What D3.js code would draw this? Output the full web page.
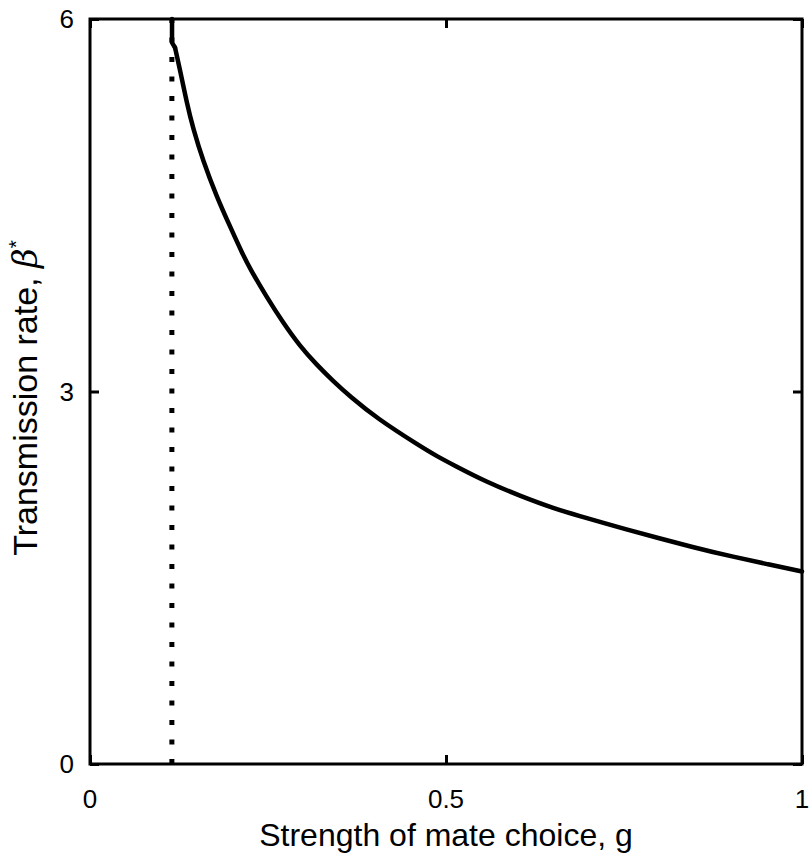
<!DOCTYPE html>
<html lang="en">
<head>
<meta charset="utf-8">
<title>Transmission rate vs strength of mate choice</title>
<script src="https://cdn.jsdelivr.net/npm/d3@7"></script>
<style>
  body { margin: 0; background: #fff; }
  text { font-family: "Liberation Sans", Arial, Helvetica, sans-serif; fill: #000; }
</style>
</head>
<body>
<script>
// threshold value of g (dotted vertical line)
var gThreshold = 0.115;

// curve: strength of mate choice g -> beta*
var gValues = [0.1152, 0.1152, 0.1194, 0.1264, 0.1358, 0.1447, 0.1587, 0.1779, 0.1966, 0.2149,
               0.2247, 0.2482, 0.2711, 0.2949, 0.3184, 0.3413, 0.3652, 0.4027, 0.4635, 0.4869,
               0.5098, 0.5572, 0.6039, 0.6503, 0.6976, 0.7397, 0.8567, 0.9031, 0.9508, 1.0];
var betaValues = [6.0, 5.81, 5.77, 5.59, 5.33, 5.12, 4.86, 4.57, 4.33, 4.10,
                  3.99, 3.76, 3.555, 3.365, 3.215, 3.085, 2.96, 2.785, 2.56, 2.48,
                  2.41, 2.27, 2.16, 2.06, 1.98, 1.91, 1.73, 1.67, 1.61, 1.55];

var xTicks = [0, 0.5, 1];
var xTickLabels = ["0", "0.5", "1"];
var yTicks = [0, 3, 6];
var yTickLabels = ["0", "3", "6"];

var w = 810, h = 859;
var mLeft = 90, mRight = 802, mTop = 19, mBottom = 764;

var svg = d3.select("body").append("svg").attr("width", w).attr("height", h);

var x = d3.scaleLinear().domain([0, 1]).range([mLeft, mRight]);
var y = d3.scaleLinear().domain([0, 6]).range([mBottom, mTop]);

// dotted threshold line, drawn from bottom up so dots start at the axis
svg.append("line")
  .attr("x1", x(gThreshold)).attr("x2", x(gThreshold))
  .attr("y1", y(0)).attr("y2", y(6))
  .attr("stroke", "#000")
  .attr("stroke-width", 5)
  .attr("stroke-dasharray", "5,14.5");

// the curve: straight bit at the top, smoothed after that
var pts = gValues.map(function(g, i) { return [g, betaValues[i]]; });
var straight = d3.line()
  .x(function(d) { return x(d[0]); })
  .y(function(d) { return y(d[1]); });
var smooth = d3.line()
  .x(function(d) { return x(d[0]); })
  .y(function(d) { return y(d[1]); })
  .curve(d3.curveBasis);

[straight(pts.slice(0, 3)), smooth(pts.slice(2))].forEach(function(d) {
  svg.append("path")
    .attr("d", d)
    .attr("fill", "none")
    .attr("stroke", "#000")
    .attr("stroke-width", 4.5)
    .attr("stroke-linejoin", "round")
    .attr("stroke-linecap", "round");
});

// frame
svg.append("rect")
  .attr("x", mLeft).attr("y", mTop)
  .attr("width", mRight - mLeft).attr("height", mBottom - mTop)
  .attr("fill", "none")
  .attr("stroke", "#000")
  .attr("stroke-width", 3);

// axes with inward ticks, labels added separately
var tick = 9;
function styleAxis(g) {
  g.select(".domain").remove();
  g.selectAll("line").attr("stroke-width", 3);
}
svg.append("g").attr("transform", "translate(0," + mBottom + ")")
  .call(d3.axisTop(x).tickValues(xTicks).tickSize(tick).tickFormat(""))
  .call(styleAxis);
svg.append("g").attr("transform", "translate(0," + mTop + ")")
  .call(d3.axisBottom(x).tickValues(xTicks).tickSize(tick).tickFormat(""))
  .call(styleAxis);
svg.append("g").attr("transform", "translate(" + mLeft + ",0)")
  .call(d3.axisRight(y).tickValues(yTicks).tickSize(tick).tickFormat(""))
  .call(styleAxis);
svg.append("g").attr("transform", "translate(" + mRight + ",0)")
  .call(d3.axisLeft(y).tickValues(yTicks).tickSize(tick).tickFormat(""))
  .call(styleAxis);

// tick labels
svg.selectAll(".xl").data(xTicks).enter().append("text")
  .attr("class", "xl")
  .attr("x", function(d) { return x(d); })
  .attr("y", 808)
  .attr("text-anchor", "middle")
  .attr("font-size", 26)
  .text(function(d, i) { return xTickLabels[i]; });

svg.selectAll(".yl").data(yTicks).enter().append("text")
  .attr("class", "yl")
  .attr("x", 74)
  .attr("y", function(d) { return y(d) + 9; })
  .attr("text-anchor", "end")
  .attr("font-size", 26)
  .text(function(d, i) { return yTickLabels[i]; });

// axis titles
svg.append("text")
  .attr("x", (mLeft + mRight) / 2)
  .attr("y", 846)
  .attr("text-anchor", "middle")
  .attr("font-size", 32)
  .text("Strength of mate choice, g");

var yt = svg.append("text")
  .attr("transform", "translate(37,398) rotate(-90)")
  .attr("text-anchor", "middle")
  .attr("font-size", 34);
yt.append("tspan").text("Transmission rate, ");
yt.append("tspan").attr("font-style", "italic").attr("font-family", "DejaVu Serif, serif").text("β");
yt.append("tspan").attr("font-size", 21).attr("dy", -14).text("*");
</script>
</body>
</html>
